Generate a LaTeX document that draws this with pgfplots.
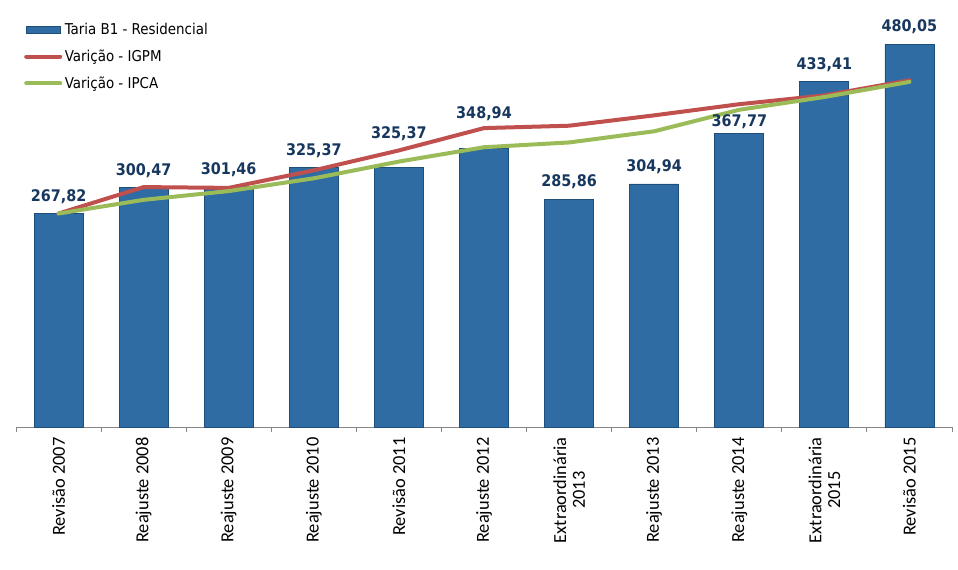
\documentclass[border=0pt]{standalone}
\usepackage{pgfplots}
\pgfplotsset{compat=1.18}
\usepackage{pgfplotstable}
\usepackage{fontspec}
\setmainfont{DejaVu Sans Condensed}
\newfontfamily\calib{Carlito}
\definecolor{barblue}{RGB}{46,108,163}
\definecolor{bardark}{RGB}{31,78,121}
\definecolor{igpm}{RGB}{192,80,77}
\definecolor{ipca}{RGB}{155,187,89}
\definecolor{lblnavy}{RGB}{23,55,94}
\definecolor{axgray}{RGB}{134,134,134}

\pgfplotstableread{
x y lab off
0 267.82 267,82 0
1 300.47 300,47 0
2 301.46 301,46 0
3 325.37 325,37 0
4 325.37 325,37 17
5 348.94 348,94 18
6 285.86 285,86 0
7 304.94 304,94 0
8 367.77 367,77 -5
9 433.41 433,41 0
10 480.05 480,05 0
}\tarifa

\pgfplotstableread{
x y
0 267.82
1 301
2 300
3 322
4 347
5 375
6 378
7 391
8 405
9 416
10 435
}\igpmtab

\pgfplotstableread{
x y
0 267.82
1 285
2 296
3 312
4 333
5 351
6 357
7 371
8 398
9 414
10 433
}\ipcatab

\begin{document}
\begin{tikzpicture}
\useasboundingbox (0,0) rectangle (718.5pt,426.75pt);
\begin{axis}[
  at={(12pt,106.5pt)}, anchor=south west,
  scale only axis, width=702pt, height=298.9pt,
  xmin=-0.5, xmax=10.5, ymin=0, ymax=500,
  clip=false,
  axis x line=bottom, axis y line=none,
  axis line style={-, axgray, line width=0.75pt},
  xtick={0,...,10},
  xticklabels={Revisão 2007, Reajuste 2008, Reajuste 2009, Reajuste 2010, Revisão 2011, Reajuste 2012, {Extraordinária\\2013}, Reajuste 2013, Reajuste 2014, {Extraordinária\\2015}, Revisão 2015},
  major x tick style={draw=none},
  minor xtick={-0.5,0.5,...,10.5},
  minor tick length=4pt, tick align=outside,
  minor x tick style={axgray, line width=0.75pt},
  ytick=\empty,
  xticklabel style={rotate=90, anchor=east, font=\calib\fontsize{13.8}{14}\selectfont, align=center, text=black},
  legend style={at={(0.0085,1.021)}, anchor=north west, draw=none, fill=none,
    font=\fontsize{11.2}{13}\selectfont, row sep=6pt, inner sep=0pt},
  legend cell align=left,
]
\addplot[ybar, bar width=36.75pt, fill=barblue, draw=bardark, line width=0.6pt,
  point meta=explicit symbolic,
  visualization depends on={\thisrow{off} \as \off},
  nodes near coords,
  every node near coord/.append style={font=\bfseries\fontsize{12}{12.5}\selectfont, text=lblnavy, anchor=south, yshift={(\off*0.75+4)*1pt}},
  legend image code/.code={\draw[fill=barblue, draw=bardark] (0pt,-2.6pt) rectangle (25.5pt,2.6pt);}
] table[x=x, y=y, meta=lab]{\tarifa};
\addlegendentry{Taria B1 - Residencial}
\addplot[igpm, line width=3pt, line join=round, line cap=round,
  legend image code/.code={\draw[igpm, line width=3pt] (0pt,0pt) -- (25.5pt,0pt);}
] table[x=x, y=y]{\igpmtab};
\addlegendentry{Varição - IGPM}
\addplot[ipca, line width=3pt, line join=round, line cap=round,
  legend image code/.code={\draw[ipca, line width=3pt] (0pt,0pt) -- (25.5pt,0pt);}
] table[x=x, y=y]{\ipcatab};
\addlegendentry{Varição - IPCA}
\end{axis}
\end{tikzpicture}
\end{document}
